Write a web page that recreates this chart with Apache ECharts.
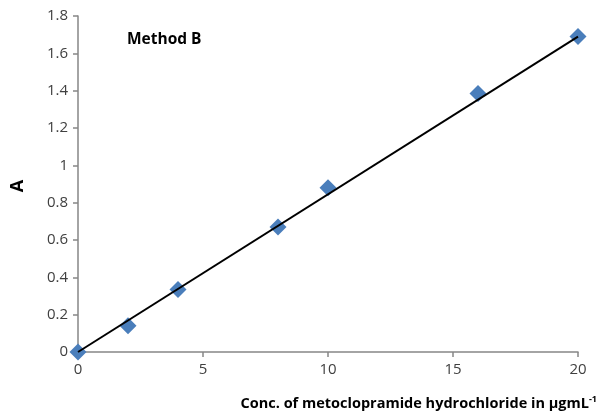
<!DOCTYPE html>
<html>
<head>
<meta charset="utf-8">
<script src="https://cdn.jsdelivr.net/npm/echarts@6/dist/echarts.min.js"></script>
<style>
  html, body { margin: 0; padding: 0; background: #fff; }
  #chart { width: 597px; height: 417px; }
</style>
</head>
<body>
<div id="chart"></div>
<script>
// measured points (conc. in µg/mL vs absorbance)
const conc = [0, 2, 4, 8, 10, 16, 20];
const absorbance = [0, 0.14, 0.335, 0.67, 0.88, 1.385, 1.69];
// linear trend line end points
const trendX = [0, 20];
const trendY = [0, 1.69];

const axisColor = "#868686";
const labelStyle = { color: "#404040", fontSize: 15, fontFamily: "Open Sans" };

const chart = echarts.init(document.getElementById("chart"));
chart.setOption({
  animation: false,
  grid: { left: 78, right: 19, top: 16, bottom: 65 },
  xAxis: {
    type: "value",
    min: 0,
    max: 20,
    interval: 5,
    splitLine: { show: false },
    axisLine: { show: true, onZero: false, lineStyle: { color: axisColor, width: 1.5 } },
    axisTick: { show: true, length: 5, lineStyle: { color: axisColor, width: 1.5 } },
    axisLabel: { ...labelStyle, margin: 10 },
  },
  yAxis: {
    type: "value",
    min: 0,
    max: 1.8,
    interval: 0.2,
    splitLine: { show: false },
    axisLine: { show: true, onZero: false, lineStyle: { color: axisColor, width: 1.5 } },
    axisTick: { show: true, length: 5, lineStyle: { color: axisColor, width: 1.5 } },
    axisLabel: { ...labelStyle, margin: 10, formatter: (v) => String(+v.toFixed(1)) },
  },
  graphic: [
    {
      type: "text",
      left: 127,
      top: 32,
      style: { text: "Method B", fontSize: 15.5, fontWeight: "bold", fontFamily: "Open Sans", fill: "#000" },
    },
    {
      type: "text",
      x: 18,
      y: 186,
      rotation: Math.PI / 2,
      style: {
        text: "A",
        fontSize: 18,
        fontWeight: "bold",
        fontFamily: "Open Sans",
        fill: "#000",
        align: "center",
        verticalAlign: "middle",
      },
    },
    {
      type: "text",
      right: 0,
      top: 395,
      style: {
        text: "{m|Conc. of metoclopramide hydrochloride in µgmL}{s|-1}",
        rich: {
          m: { fontSize: 14.5, fontWeight: "bold", fontFamily: "Open Sans", fill: "#000" },
          s: { fontSize: 9, fontWeight: "bold", fontFamily: "Open Sans", fill: "#000", verticalAlign: "top", padding: [0, 0, 8, 0] },
        },
      },
    },
  ],
  series: [
    {
      type: "line",
      data: trendX.map((x, i) => [x, trendY[i]]),
      symbol: "none",
      lineStyle: { color: "#000", width: 2 },
      z: 3,
    },
    {
      type: "scatter",
      data: conc.map((x, i) => [x, absorbance[i]]),
      symbol: "diamond",
      symbolSize: [17, 17],
      itemStyle: { color: "#4A7EBB", opacity: 1 },
      z: 2,
    },
  ],
});
</script>
</body>
</html>
